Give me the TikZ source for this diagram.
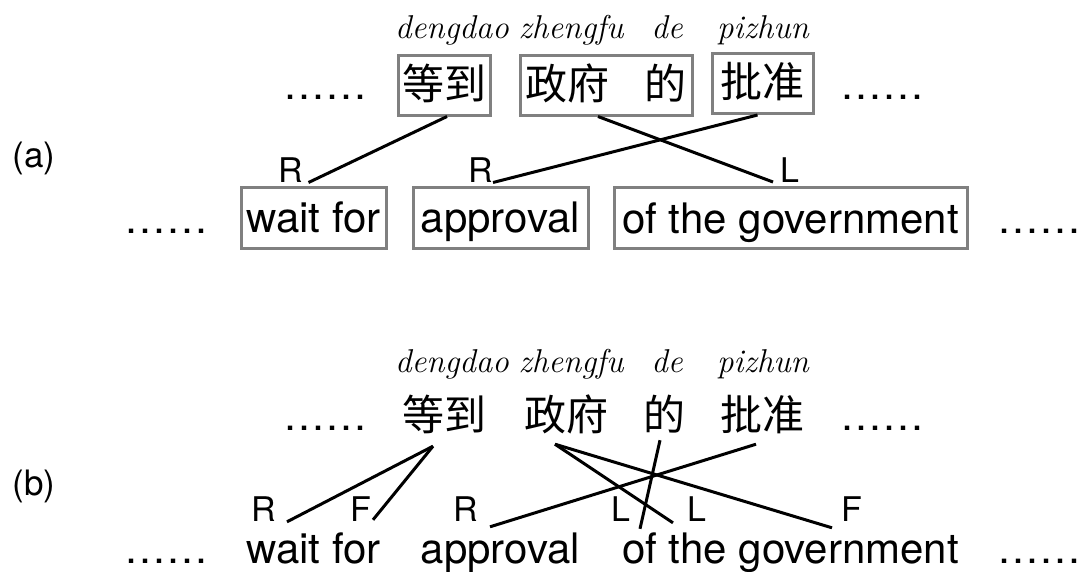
\documentclass[tikz,border=0pt]{standalone}
\usepackage{fontspec}
\newfontfamily\en{TeX Gyre Heros}
\newfontfamily\cjk{Noto Sans CJK SC}
\definecolor{boxgray}{RGB}{128,128,128}
\begin{document}
\begin{tikzpicture}[x=1pt,y=-1pt,
  lab/.style={font=\fontsize{34}{38}\selectfont\en, anchor=base, inner sep=0pt},
  pin/.style={font=\fontsize{33}{38}\selectfont\itshape, anchor=base, inner sep=0pt},
  dots/.style={font=\fontsize{42}{48}\selectfont\en, anchor=base, inner sep=0pt},
  cword/.style={font=\fontsize{42}{48}\selectfont\cjk, inner sep=0pt, minimum height=60pt, text height=34pt, text depth=6pt},
  eword/.style={font=\fontsize{42}{48}\selectfont\en, inner sep=0pt, minimum height=61pt, text height=36pt, text depth=6pt},
  framed/.style={draw=boxgray, line width=3pt},
  link/.style={line width=3pt, black},
  tag/.style={font=\fontsize{35}{40}\selectfont\en, inner sep=0pt}
]
\path[use as bounding box, fill=white] (0,0) rectangle (1083,571);

% ---------- (a) ----------
\node[tag] (ta) at (34,158) {(a)};
\node[pin] (pa1) at (452,38) {dengdao};
\node[pin] (pa2) at (571,38) {zhengfu};
\node[pin] (pa3) at (667,38) {de};
\node[pin] (pa4) at (763,38) {pizhun};

\node[dots] (da1) at (325,99) {……};
\node[dots] (da2) at (882.5,99) {……};
\node[cword,framed,minimum width=92pt] (ca1) at (444,85) {等到};
\node[cword,framed,minimum width=172pt] (ca2) at (606,85) {政府\hspace{35pt}的};
\node[cword,framed,minimum width=101pt] (ca3) at (762.5,83.5) {批准};

\node[lab] (la1) at (291,182) {R};
\node[lab] (la2) at (481,182) {R};
\node[lab] (la3) at (790,182) {L};

\node[dots] (da3) at (166.5,233) {……};
\node[dots] (da4) at (1039.5,233) {……};
\node[eword,framed,minimum width=145pt] (ea1) at (313.5,217.5) {wait for};
\node[eword,framed,minimum width=175pt] (ea2) at (500.5,217.5) {approval};
\node[eword,framed,minimum width=353pt] (ea3) at (790.5,218) {of the government};

\draw[link] ([xshift=3pt]ca1.south) -- ([xshift=-5pt,yshift=3pt]ea1.north);
\draw[link] ([xshift=-5pt]ca3.south) -- ([xshift=-7.5pt,yshift=3pt]ea2.north);
\draw[link] ([xshift=-8pt]ca2.south) -- ([xshift=-17.5pt,yshift=4pt]ea3.north);

% ---------- (b) ----------
\node[tag] (tb) at (34,486) {(b)};
\node[pin] (pb1) at (452,372) {dengdao};
\node[pin] (pb2) at (571,372) {zhengfu};
\node[pin] (pb3) at (667,372) {de};
\node[pin] (pb4) at (763,372) {pizhun};

\node[dots] (db1) at (325,430) {……};
\node[dots] (db2) at (882.5,430) {……};
\node[cword,minimum width=92pt] (cb1) at (444,416) {等到};
\node[cword] (cb2) at (566,416) {政府};
\node[cword] (cb3) at (664,416) {的};
\node[cword] (cb4) at (762,416) {批准};

\node[lab] (lb1) at (264,521) {R};
\node[lab] (lb2) at (361,521) {F};
\node[lab] (lb3) at (466,521) {R};
\node[lab] (lb4) at (621,521) {L};
\node[lab] (lb5) at (697,521) {L};
\node[lab] (lb6) at (852,521) {F};

\node[dots] (db3) at (166.5,563) {……};
\node[dots] (db4) at (1039.5,563) {……};
\node[eword,minimum width=145pt] (eb1) at (313.5,548.5) {wait for};
\node[eword,minimum width=175pt] (eb2) at (500.5,548.5) {approval};
\node[eword,minimum width=353pt] (eb3) at (790.5,548.5) {of the government};

\draw[link] ([xshift=-11pt]cb1.south) -- ([xshift=-26.5pt,yshift=-4pt]eb1.north);
\draw[link] ([xshift=-11pt]cb1.south) -- ([xshift=59.5pt,yshift=-2pt]eb1.north);
\draw[link] ([xshift=-6pt,yshift=2pt]cb4.south) -- ([xshift=-10.5pt,yshift=-9pt]eb2.north);
\draw[link] ([xshift=-11pt,yshift=2pt]cb2.south) -- ([xshift=-117.5pt,yshift=-5pt]eb3.north);
\draw[link] ([xshift=-11pt,yshift=2pt]cb2.south) -- ([xshift=41.5pt,yshift=-10pt]eb3.north);
\draw[link] ([xshift=-4pt,yshift=6pt]cb3.south) -- ([xshift=-150.5pt,yshift=-11pt]eb3.north);
\end{tikzpicture}
\end{document}
